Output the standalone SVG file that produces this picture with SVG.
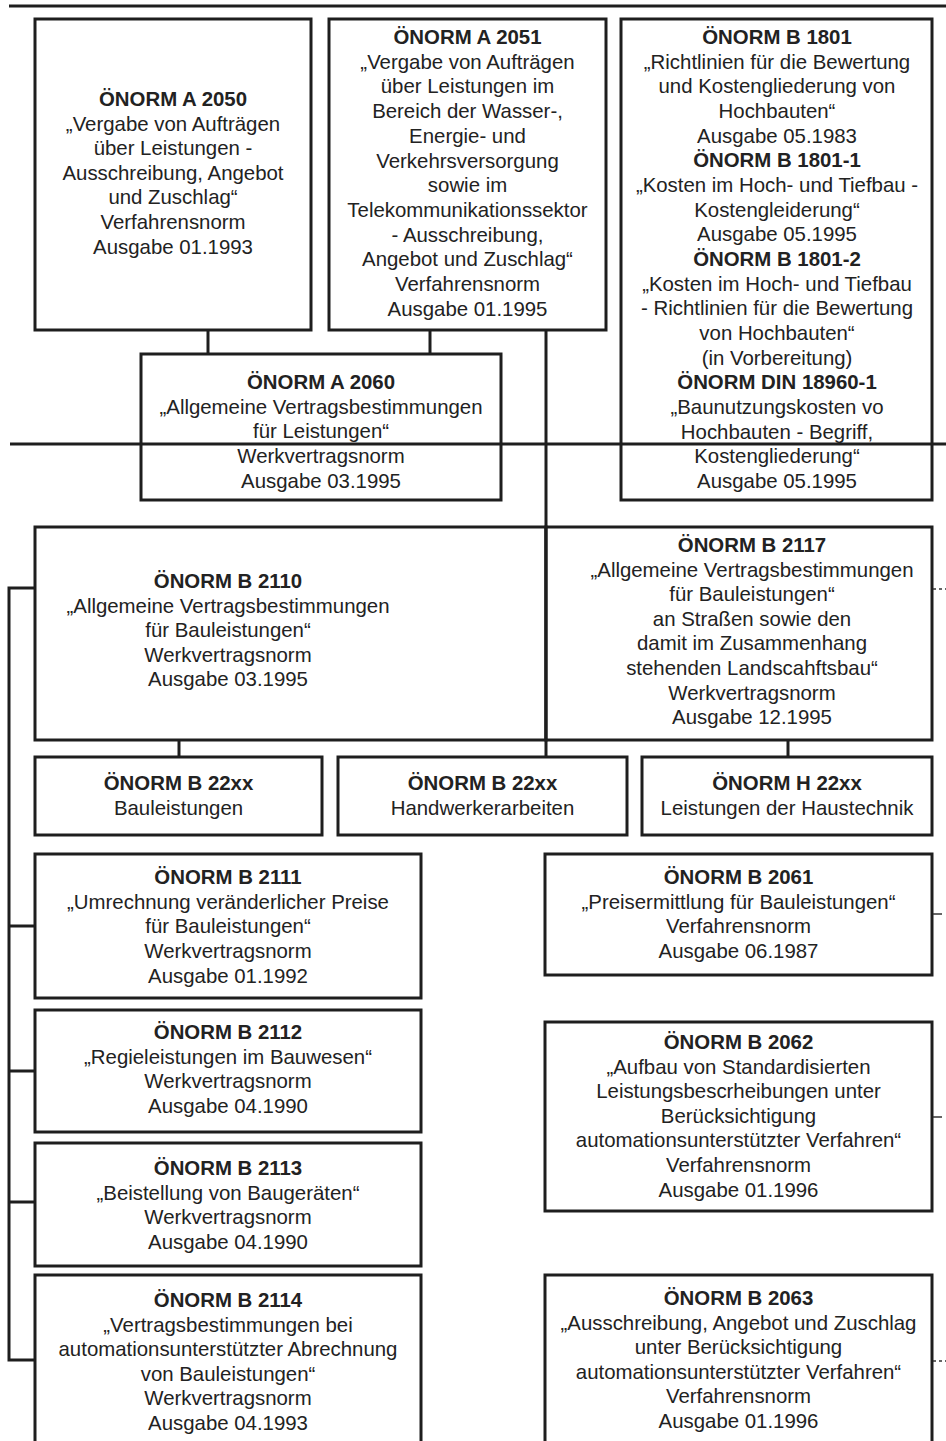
<svg xmlns="http://www.w3.org/2000/svg" width="946" height="1441" viewBox="0 0 946 1441">
<style>
.box{fill:#fff;stroke:#1e1e1e;stroke-width:3}
.t{font-family:"Liberation Sans",Arial,sans-serif;font-size:20.4px;text-anchor:middle;fill:#222}
.b{font-weight:bold}
.ln{fill:none;stroke:#1e1e1e;stroke-width:3}
.stub{fill:none;stroke:#333;stroke-width:1.5}
.dash{stroke-dasharray:3 3}
</style>
<rect width="946" height="1441" fill="#fff"/>
<g id="nodes">
<g id="A2050">
<rect class="box" x="35" y="19" width="276" height="311"/>
<text class="t" x="173" y="106"><tspan class="b">ÖNORM A 2050</tspan><tspan x="173" dy="24.6">„Vergabe von Aufträgen</tspan><tspan x="173" dy="24.6">über Leistungen -</tspan><tspan x="173" dy="24.6">Ausschreibung, Angebot</tspan><tspan x="173" dy="24.6">und Zuschlag“</tspan><tspan x="173" dy="24.6">Verfahrensnorm</tspan><tspan x="173" dy="24.6">Ausgabe 01.1993</tspan></text>
</g>
<g id="A2051">
<rect class="box" x="329" y="19" width="277" height="311"/>
<text class="t" x="467.5" y="44"><tspan class="b">ÖNORM A 2051</tspan><tspan x="467.5" dy="24.7">„Vergabe von Aufträgen</tspan><tspan x="467.5" dy="24.7">über Leistungen im</tspan><tspan x="467.5" dy="24.7">Bereich der Wasser-,</tspan><tspan x="467.5" dy="24.7">Energie- und</tspan><tspan x="467.5" dy="24.7">Verkehrsversorgung</tspan><tspan x="467.5" dy="24.7">sowie im</tspan><tspan x="467.5" dy="24.7">Telekommunikationssektor</tspan><tspan x="467.5" dy="24.7">- Ausschreibung,</tspan><tspan x="467.5" dy="24.7">Angebot und Zuschlag“</tspan><tspan x="467.5" dy="24.7">Verfahrensnorm</tspan><tspan x="467.5" dy="24.7">Ausgabe 01.1995</tspan></text>
</g>
<g id="B1801">
<rect class="box" x="621" y="19" width="311" height="481"/>
<text class="t" x="777" y="44"><tspan class="b">ÖNORM B 1801</tspan><tspan x="777" dy="24.67">„Richtlinien für die Bewertung</tspan><tspan x="777" dy="24.67">und Kostengliederung von</tspan><tspan x="777" dy="24.67">Hochbauten“</tspan><tspan x="777" dy="24.67">Ausgabe 05.1983</tspan><tspan x="777" dy="24.67" class="b">ÖNORM B 1801-1</tspan><tspan x="777" dy="24.67">„Kosten im Hoch- und Tiefbau -</tspan><tspan x="777" dy="24.67">Kostengleiderung“</tspan><tspan x="777" dy="24.67">Ausgabe 05.1995</tspan><tspan x="777" dy="24.67" class="b">ÖNORM B 1801-2</tspan><tspan x="777" dy="24.67">„Kosten im Hoch- und Tiefbau</tspan><tspan x="777" dy="24.67">- Richtlinien für die Bewertung</tspan><tspan x="777" dy="24.67">von Hochbauten“</tspan><tspan x="777" dy="24.67">(in Vorbereitung)</tspan><tspan x="777" dy="24.67" class="b">ÖNORM DIN 18960-1</tspan><tspan x="777" dy="24.67">„Baunutzungskosten vo</tspan><tspan x="777" dy="24.67">Hochbauten - Begriff,</tspan><tspan x="777" dy="24.67">Kostengliederung“</tspan><tspan x="777" dy="24.67">Ausgabe 05.1995</tspan></text>
</g>
<g id="A2060">
<rect class="box" x="141" y="354" width="360" height="146"/>
<text class="t" x="321" y="389"><tspan class="b">ÖNORM A 2060</tspan><tspan x="321" dy="24.67">„Allgemeine Vertragsbestimmungen</tspan><tspan x="321" dy="24.67">für Leistungen“</tspan><tspan x="321" dy="24.67">Werkvertragsnorm</tspan><tspan x="321" dy="24.67">Ausgabe 03.1995</tspan></text>
</g>
<g id="B2110">
<rect class="box" x="35" y="527" width="511" height="213"/>
<text class="t" x="228" y="588"><tspan class="b">ÖNORM B 2110</tspan><tspan x="228" dy="24.6">„Allgemeine Vertragsbestimmungen</tspan><tspan x="228" dy="24.6">für Bauleistungen“</tspan><tspan x="228" dy="24.6">Werkvertragsnorm</tspan><tspan x="228" dy="24.6">Ausgabe 03.1995</tspan></text>
</g>
<g id="B2117">
<rect class="box" x="546" y="527" width="386" height="213"/>
<text class="t" x="752" y="552"><tspan class="b">ÖNORM B 2117</tspan><tspan x="752" dy="24.6">„Allgemeine Vertragsbestimmungen</tspan><tspan x="752" dy="24.6">für Bauleistungen“</tspan><tspan x="752" dy="24.6">an Straßen sowie den</tspan><tspan x="752" dy="24.6">damit im Zusammenhang</tspan><tspan x="752" dy="24.6">stehenden Landscahftsbau“</tspan><tspan x="752" dy="24.6">Werkvertragsnorm</tspan><tspan x="752" dy="24.6">Ausgabe 12.1995</tspan></text>
</g>
<g id="B22xx-Bau">
<rect class="box" x="35" y="757" width="287" height="78"/>
<text class="t" x="178.5" y="790"><tspan class="b">ÖNORM B 22xx</tspan><tspan x="178.5" dy="24.7">Bauleistungen</tspan></text>
</g>
<g id="B22xx-Handwerk">
<rect class="box" x="338" y="757" width="289" height="78"/>
<text class="t" x="482.5" y="790"><tspan class="b">ÖNORM B 22xx</tspan><tspan x="482.5" dy="24.7">Handwerkerarbeiten</tspan></text>
</g>
<g id="H22xx">
<rect class="box" x="642" y="757" width="290" height="78"/>
<text class="t" x="787" y="790"><tspan class="b">ÖNORM H 22xx</tspan><tspan x="787" dy="24.7">Leistungen der Haustechnik</tspan></text>
</g>
<g id="B2111">
<rect class="box" x="35" y="854" width="386" height="144"/>
<text class="t" x="228" y="884"><tspan class="b">ÖNORM B 2111</tspan><tspan x="228" dy="24.7">„Umrechnung veränderlicher Preise</tspan><tspan x="228" dy="24.7">für Bauleistungen“</tspan><tspan x="228" dy="24.7">Werkvertragsnorm</tspan><tspan x="228" dy="24.7">Ausgabe 01.1992</tspan></text>
</g>
<g id="B2112">
<rect class="box" x="35" y="1010" width="386" height="122"/>
<text class="t" x="228" y="1039"><tspan class="b">ÖNORM B 2112</tspan><tspan x="228" dy="24.7">„Regieleistungen im Bauwesen“</tspan><tspan x="228" dy="24.7">Werkvertragsnorm</tspan><tspan x="228" dy="24.7">Ausgabe 04.1990</tspan></text>
</g>
<g id="B2113">
<rect class="box" x="35" y="1143" width="386" height="123"/>
<text class="t" x="228" y="1175"><tspan class="b">ÖNORM B 2113</tspan><tspan x="228" dy="24.7">„Beistellung von Baugeräten“</tspan><tspan x="228" dy="24.7">Werkvertragsnorm</tspan><tspan x="228" dy="24.7">Ausgabe 04.1990</tspan></text>
</g>
<g id="B2114">
<rect class="box" x="35" y="1275" width="386" height="190"/>
<text class="t" x="228" y="1307"><tspan class="b">ÖNORM B 2114</tspan><tspan x="228" dy="24.6">„Vertragsbestimmungen bei</tspan><tspan x="228" dy="24.6">automationsunterstützter Abrechnung</tspan><tspan x="228" dy="24.6">von Bauleistungen“</tspan><tspan x="228" dy="24.6">Werkvertragsnorm</tspan><tspan x="228" dy="24.6">Ausgabe 04.1993</tspan></text>
</g>
<g id="B2061">
<rect class="box" x="545" y="854" width="387" height="121"/>
<text class="t" x="738.5" y="884"><tspan class="b">ÖNORM B 2061</tspan><tspan x="738.5" dy="24.7">„Preisermittlung für Bauleistungen“</tspan><tspan x="738.5" dy="24.7">Verfahrensnorm</tspan><tspan x="738.5" dy="24.7">Ausgabe 06.1987</tspan></text>
</g>
<g id="B2062">
<rect class="box" x="545" y="1022" width="387" height="189"/>
<text class="t" x="738.5" y="1049"><tspan class="b">ÖNORM B 2062</tspan><tspan x="738.5" dy="24.6">„Aufbau von Standardisierten</tspan><tspan x="738.5" dy="24.6">Leistungsbescrheibungen unter</tspan><tspan x="738.5" dy="24.6">Berücksichtigung</tspan><tspan x="738.5" dy="24.6">automationsunterstützter Verfahren“</tspan><tspan x="738.5" dy="24.6">Verfahrensnorm</tspan><tspan x="738.5" dy="24.6">Ausgabe 01.1996</tspan></text>
</g>
<g id="B2063">
<rect class="box" x="545" y="1275" width="387" height="190"/>
<text class="t" x="738.5" y="1305"><tspan class="b">ÖNORM B 2063</tspan><tspan x="738.5" dy="24.6">„Ausschreibung, Angebot und Zuschlag</tspan><tspan x="738.5" dy="24.6">unter Berücksichtigung</tspan><tspan x="738.5" dy="24.6">automationsunterstützter Verfahren“</tspan><tspan x="738.5" dy="24.6">Verfahrensnorm</tspan><tspan x="738.5" dy="24.6">Ausgabe 01.1996</tspan></text>
</g>
</g>
<g id="connectors">
<path class="ln" d="M9 6H946"/>
<path class="ln" d="M10 444H946"/>
<path class="ln" d="M208 330V354"/>
<path class="ln" d="M430 330V354"/>
<path class="ln" d="M546 330V757"/>
<path class="ln" d="M179 740V757"/>
<path class="ln" d="M788 740V757"/>
<path class="ln" d="M35 588H9V1360H35"/>
<path class="ln" d="M9 926H35M9 1071H35M9 1202H35"/>
<path class="stub dash" d="M933 589H946"/>
<path class="stub" d="M933 914H942"/>
<path class="stub" d="M933 1117H942"/>
<path class="stub dash" d="M933 1361H946"/>
</g>
</svg>
